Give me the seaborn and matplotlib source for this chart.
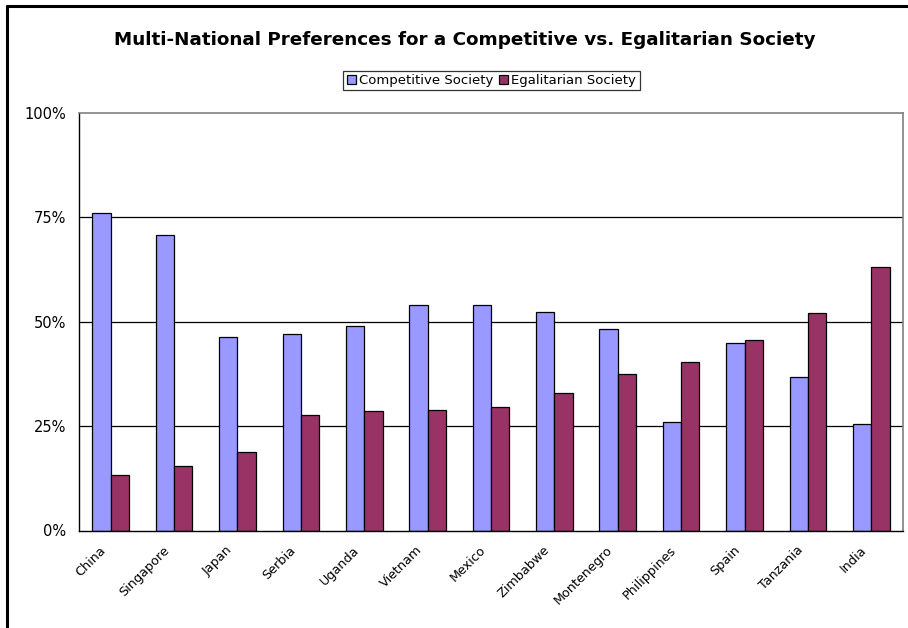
import numpy as np
import pandas as pd
import seaborn as sns
import matplotlib.pyplot as plt
import matplotlib.transforms as mtransforms
from matplotlib.lines import Line2D
from matplotlib.ticker import PercentFormatter, FixedLocator

countries = ["China", "Singapore", "Japan", "Serbia", "Uganda", "Vietnam", "Mexico",
             "Zimbabwe", "Montenegro", "Philippines", "Spain", "Tanzania", "India"]
competitive = [0.760, 0.707, 0.464, 0.470, 0.489, 0.540, 0.540,
               0.523, 0.483, 0.261, 0.450, 0.368, 0.254]
egalitarian = [0.132, 0.154, 0.189, 0.277, 0.287, 0.289, 0.295,
               0.329, 0.375, 0.404, 0.456, 0.520, 0.631]
series_names = ["Competitive Society", "Egalitarian Society"]
colors = ["#9999FF", "#993366"]

df = pd.DataFrame({
    "country": countries * 2,
    "value": competitive + egalitarian,
    "series": [series_names[0]] * len(countries) + [series_names[1]] * len(countries),
})

sns.set_style("white")
plt.rcParams["font.family"] = ["DejaVu Sans"]
plt.rcParams["text.color"] = "black"
plt.rcParams["xtick.color"] = "black"
plt.rcParams["ytick.color"] = "black"

fig = plt.figure(figsize=(9.08, 6.28), dpi=100)
ax = fig.add_axes([79 / 908, 1 - 530.5 / 628, 824 / 908, 417.5 / 628])

sns.barplot(data=df, x="country", y="value", hue="series", palette=colors,
            width=0.578, edgecolor="black", linewidth=0.9, saturation=1,
            ax=ax)

ax.set_ylim(0, 1)
ax.set_xlim(-0.5, len(countries) - 0.5)
ax.set_yticks([0, 0.25, 0.5, 0.75, 1.0])
ax.yaxis.set_major_formatter(PercentFormatter(1.0, decimals=0))
for y in [0.25, 0.5, 0.75]:
    ax.axhline(y, color="black", lw=0.9, zorder=0)
ax.set_xlabel("")
ax.set_ylabel("")

# category labels, ticks at category boundaries
ax.xaxis.set_minor_locator(FixedLocator(np.arange(-0.5, len(countries), 1.0)))
ax.tick_params(axis="x", which="major", length=0, pad=7, labelsize=9.2)
ax.tick_params(axis="x", which="minor", length=5, width=0.9, color="black", direction="out")
ax.tick_params(axis="y", length=6, width=0.9, color="black", direction="out", labelsize=10.5, pad=3)
shift = mtransforms.ScaledTranslation(-7 / 100, -8 / 100, fig.dpi_scale_trans)
for lab in ax.get_xticklabels():
    lab.set_rotation(45)
    lab.set_ha("right")
    lab.set_va("center")
    lab.set_rotation_mode("anchor")
    lab.set_transform(lab.get_transform() + shift)

for side in ["left", "bottom"]:
    ax.spines[side].set_color("black")
    ax.spines[side].set_linewidth(1)
for side in ["top", "right"]:
    ax.spines[side].set_color("#808080")
    ax.spines[side].set_linewidth(1.2)

handles, labels = ax.get_legend_handles_labels()
ax.get_legend().remove()
fig.legend(handles, labels, loc="center", bbox_to_anchor=(491.5 / 908, 1 - 80.5 / 628),
           ncol=2, fontsize=9.5, frameon=True, fancybox=False, edgecolor="black",
           handlelength=0.7, handleheight=0.7, handletextpad=0.25, columnspacing=0.4,
           borderpad=0.25, borderaxespad=0)
fig.legends[0].get_frame().set_linewidth(0.9)

fig.text(464.5 / 908, 1 - 40 / 628,
         "Multi-National Preferences for a Competitive vs. Egalitarian Society",
         ha="center", va="center", fontsize=13.2, fontweight="bold")

# chart border (left and top visible)
fig.add_artist(Line2D([7 / 908, 7 / 908], [0, 1 - 5.5 / 628], color="black", lw=2.2))
fig.add_artist(Line2D([7 / 908, 1], [1 - 5.5 / 628, 1 - 5.5 / 628], color="black", lw=2.2))

fig.savefig("out.png", dpi=100)
